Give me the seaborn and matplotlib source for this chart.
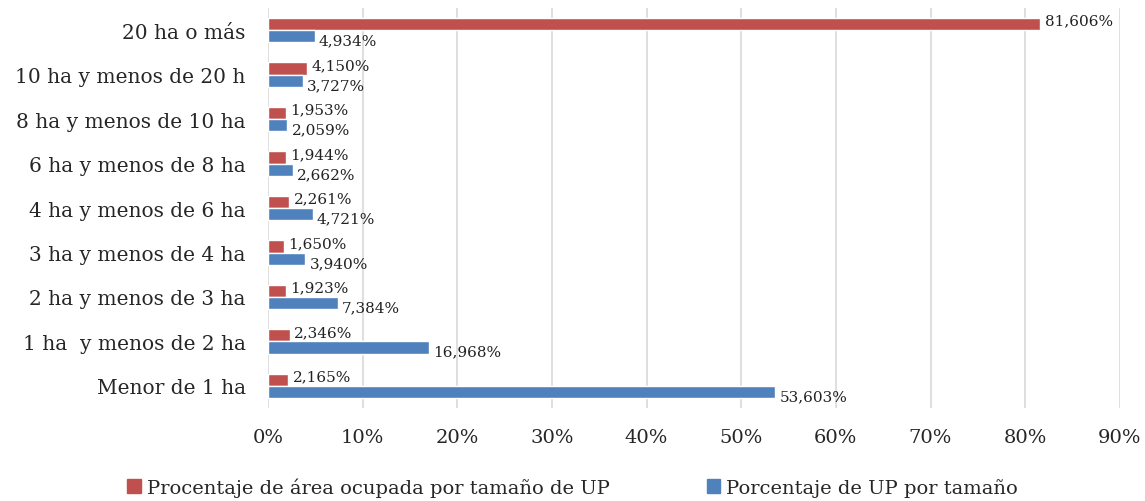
import pandas as pd
import matplotlib.pyplot as plt
import seaborn as sns

categorias = ["20 ha o más", "10 ha y menos de 20 h", "8 ha y menos de 10 ha",
              "6 ha y menos de 8 ha", "4 ha y menos de 6 ha", "3 ha y menos de 4 ha",
              "2 ha y menos de 3 ha", "1 ha  y menos de 2 ha", "Menor de 1 ha"]
area = [81.606, 4.150, 1.953, 1.944, 2.261, 1.650, 1.923, 2.346, 2.165]
up = [4.934, 3.727, 2.059, 2.662, 4.721, 3.940, 7.384, 16.968, 53.603]
series = ["Procentaje de área ocupada por tamaño de UP", "Porcentaje de UP por tamaño"]
ticks = [0, 10, 20, 30, 40, 50, 60, 70, 80, 90]

df = pd.DataFrame({
    "cat": categorias * 2,
    "valor": area + up,
    "serie": [series[0]] * len(area) + [series[1]] * len(up),
})

sns.set_style("white")
plt.rcParams["font.family"] = ["DejaVu Serif"]

fig = plt.figure(figsize=(11.45, 5.02), dpi=100)
ax = fig.add_axes([0.234, 0.185, 0.744, 0.797])

sns.barplot(data=df, y="cat", x="valor", hue="serie", order=categorias,
            hue_order=series, palette=["#C0504D", "#4F81BD"], width=0.55,
            saturation=1, legend=False, ax=ax)

# etiquetas: roja un poco arriba, azul un poco abajo
for cont, dy in zip(ax.containers, [2.5, -3]):
    labs = [f"{v:.3f}%".replace(".", ",") for v in cont.datavalues]
    anns = ax.bar_label(cont, labels=labs, padding=3, fontsize=11, color="#222222")
    for a in anns:
        a.xyann = (3, dy)

ax.set_xlim(0, 90)
ax.set_xticks(ticks)
ax.set_xticklabels([f"{t}%" for t in ticks], fontsize=14)
ax.tick_params(axis="y", labelsize=14.5, length=0, pad=16)
ax.tick_params(axis="x", length=0, pad=14)
ax.set_xlabel("")
ax.set_ylabel("")
ax.grid(axis="x", color="#D9D9D9", linewidth=1.2)
ax.set_axisbelow(True)
for s in ax.spines.values():
    s.set_visible(False)

handles = [plt.Rectangle((0, 0), 1, 1, color=c) for c in ["#C0504D", "#4F81BD"]]
fig.legend(handles, series, loc="center", bbox_to_anchor=(0.5, 0.028), ncol=2,
           frameon=False, fontsize=14, handlelength=0.7, handleheight=0.7,
           handletextpad=0.3, columnspacing=5)

fig.savefig("out.png", dpi=100)
